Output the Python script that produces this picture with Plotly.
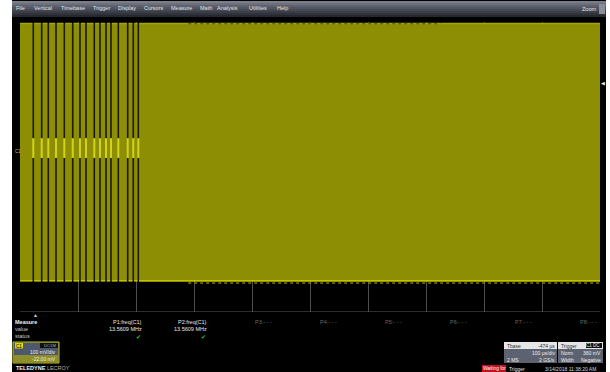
import plotly.graph_objects as go

W, H = 610, 372
FONT = "Liberation Sans"

# ---- acquisition settings -------------------------------------------------
time_range_us = [0, 1000]        # 10 div x 100 us/div
volt_range_mv = [-400, 400]      # 8 div x 100 mV/div
time_div_us = 100

# ---- carrier burst (13.56 MHz, drawn as its envelope) --------------------
carrier_high_mv = 396
carrier_low_mv = -314
pause_start_us = [21.5, 36.0, 47.4, 60.7, 75.0, 89.5, 102.0, 112.4,
                  126.7, 136.5, 146.9, 155.5, 168.1, 184.3, 193.9, 202.6]
pause_width_us = 2.8
pause_center_mv = 52
pause_ring_mv = 27
ragged_start_us = 290
ragged_top_end_us = 725

# ---- measurement panel ----------------------------------------------------
meas_labels = ["P1:freq(C1)", "P2:freq(C1)", "P3:- - -", "P4:- - -",
               "P5:- - -", "P6:- - -", "P7:- - -", "P8:- - -"]
meas_values = ["13.5609 MHz", "13.5609 MHz", "", "", "", "", "", ""]
meas_ok = [True, True, False, False, False, False, False, False]

menu_items = ["File", "Vertical", "Timebase", "Trigger", "Display", "Cursors",
              "Measure", "Math", "Analysis", "Utilities", "Help"]
menu_x = [15, 33, 60, 92, 117, 143, 170, 199, 216, 248, 276]

# ---- envelope construction ------------------------------------------------
xs = [time_range_us[0]]
up = [carrier_high_mv]
lo = [carrier_low_mv]
ring_top = pause_center_mv + pause_ring_mv
ring_bot = pause_center_mv - pause_ring_mv
for t in pause_start_us:
    t1 = t + pause_width_us
    xs += [t, t, t1, t1]
    up += [carrier_high_mv, ring_top, ring_top, carrier_high_mv]
    lo += [carrier_low_mv, ring_bot, ring_bot, carrier_low_mv]
xs.append(time_range_us[1])
up.append(carrier_high_mv)
lo.append(carrier_low_mv)

OLIVE = "#8e8e04"
fig = go.Figure()

# faint persistence under the whole burst (shows inside the pauses)
fig.add_trace(go.Scatter(x=time_range_us, y=[carrier_low_mv] * 2, mode="lines",
                         line=dict(width=0, color="#1c1c00"), hoverinfo="skip", showlegend=False))
fig.add_trace(go.Scatter(x=time_range_us, y=[carrier_high_mv] * 2, mode="lines",
                         line=dict(width=0, color="#1c1c00"), fill="tonexty",
                         fillcolor="#1c1c02", hoverinfo="skip", showlegend=False))

fig.add_trace(go.Scatter(x=xs, y=lo, mode="lines", line=dict(width=0, color=OLIVE),
                         hoverinfo="skip", showlegend=False))
fig.add_trace(go.Scatter(x=xs, y=up, mode="lines", line=dict(width=0, color=OLIVE),
                         fill="tonexty", fillcolor=OLIVE, hoverinfo="skip", showlegend=False))

# bright edges of the envelope, broken at the pauses
ex, ety, eby = [], [], []
bounds = [time_range_us[0]] + [v for t in pause_start_us for v in (t, t + pause_width_us)] + [time_range_us[1]]
for a, b in zip(bounds[0::2], bounds[1::2]):
    ex += [a, b, None]
    ety += [carrier_high_mv, carrier_high_mv, None]
    eby += [carrier_low_mv, carrier_low_mv, None]
fig.add_trace(go.Scatter(x=ex, y=ety, mode="lines", line=dict(width=1.4, color="#a6a600"),
                         hoverinfo="skip", showlegend=False))
fig.add_trace(go.Scatter(x=ex, y=eby, mode="lines", line=dict(width=1.6, color="#c2c200"),
                         hoverinfo="skip", showlegend=False))

# residual oscillation during each pause
rx, ry = [], []
for t in pause_start_us:
    c = t + pause_width_us / 2
    rx += [c, c, None]
    ry += [ring_bot, ring_top, None]
fig.add_trace(go.Scatter(x=rx, y=ry, mode="lines", line=dict(width=2, color="#d2d21c"),
                         hoverinfo="skip", showlegend=False))

# jitter on the envelope edges of the steady carrier
fig.add_trace(go.Scatter(x=[ragged_start_us, time_range_us[1]],
                         y=[carrier_low_mv - 6, carrier_low_mv - 6], mode="lines",
                         line=dict(width=1.6, color="#7c7c08", dash="dot"),
                         hoverinfo="skip", showlegend=False))
fig.add_trace(go.Scatter(x=[ragged_start_us, ragged_top_end_us],
                         y=[carrier_high_mv - 1, carrier_high_mv - 1], mode="lines",
                         line=dict(width=1, color="#4a4a00", dash="dot"),
                         hoverinfo="skip", showlegend=False))

# ---- chrome helpers -------------------------------------------------------
shapes, anns = [], []


def rect(x0, y0, x1, y1, fill, line=None, lw=0, layer="above"):
    shapes.append(dict(type="rect", xref="paper", yref="paper",
                       x0=x0 / W, x1=x1 / W, y0=1 - y1 / H, y1=1 - y0 / H,
                       fillcolor=fill, layer=layer,
                       line=dict(width=lw, color=line or fill)))


def txt(x, y, s, size=6, color="#dcdcdc", anchor="left"):
    anns.append(dict(x=x / W, y=1 - y / H, xref="paper", yref="paper", text=s,
                     showarrow=False, xanchor=anchor, yanchor="middle",
                     font=dict(size=size, color=color, family=FONT), borderpad=0))


# white page edges around the screen capture
rect(0, 0, 12, H, "#ffffff")
rect(606, 0, W, H, "#ffffff")

# menu bar gradient
grad = ["#7a7e8a", "#6c707c", "#5e626e", "#525661", "#464a54", "#3b3e47", "#30333b", "#26282e"]
for i, c in enumerate(grad):
    rect(12, 1 + i * 2, 606, 3 + i * 2, c)
for name, x in zip(menu_items, menu_x):
    txt(x, 8, name, size=5.5, color="#e4e4e8")
txt(597, 9, "Zoom", size=5.5, color="#e4e4e8", anchor="right")
rect(599, 4, 605, 14, "#8a8e98")

# grid bottom border
shapes.append(dict(type="line", xref="x", yref="y", x0=time_range_us[0], x1=time_range_us[1],
                   y0=volt_range_mv[0], y1=volt_range_mv[0],
                   line=dict(color="#5a5a5a", width=1), layer="below"))

# trace ground marker, trigger level and trigger position
txt(14, 151, "C1", size=4.5, color="#b8b890")
txt(606, 83, "◀", size=5, color="#e8e8e8", anchor="right")
txt(35, 315, "▲", size=5, color="#d0d0d0", anchor="center")

# measurement table
txt(14, 322, "<b>Measure</b>", size=5.5, color="#f0f0f0")
txt(14, 329, "value", size=5.5, color="#c8c8c8")
txt(14, 336, "status", size=5.5, color="#c8c8c8")
for i, (lab, val, ok) in enumerate(zip(meas_labels, meas_values, meas_ok)):
    xr = 143 + 65 * i
    col = "#e8e8e8" if val else "#6a6a6a"
    txt(xr, 322, lab, size=5.5, color=col, anchor="right")
    if val:
        txt(xr, 329, val, size=5.5, color="#e8e8e8", anchor="right")
    if ok:
        txt(xr - 5, 337, "✔", size=5.5, color="#3cc43c", anchor="center")

# channel descriptor
rect(13, 342, 59, 363, "#4e586c", "#c0c000", 1)
rect(14, 355, 58, 362, "#8e8e2c")
rect(15, 343, 23, 348.5, "#dada00")
txt(19, 346, "C1", size=4.5, color="#000000", anchor="center")
rect(40, 343, 58, 348, "#101010")
txt(57, 345.5, "DC1M", size=4.2, color="#b0b0b0", anchor="right")
txt(57, 352, "100 mV/div", size=5, color="#f0f0f0", anchor="right")
txt(57, 358.5, "-22.00 mV", size=5, color="#f4f4d0", anchor="right")
txt(15, 368, "<b>TELEDYNE</b> <span style='color:#b0b0b0'>LECROY</span>", size=5.5, color="#f0f0f0")

# timebase box
rect(504, 342, 557, 349, "#e6e6e6")
txt(506, 345.5, "Tbase", size=5, color="#303030")
txt(556, 345.5, "-474 µs", size=5, color="#303030", anchor="right")
rect(504, 349, 557, 363, "#5c6270")
txt(556, 352.5, "100 µs/div", size=5, color="#eeeeee", anchor="right")
txt(506, 359.5, "2 MS", size=5, color="#eeeeee")
txt(556, 359.5, "2 GS/s", size=5, color="#eeeeee", anchor="right")

# trigger box
rect(558, 342, 603, 349, "#e6e6e6")
txt(560, 345.5, "Trigger", size=5, color="#303030")
rect(586, 343, 602, 348, "#101010")
txt(601, 345.5, "C1 DC", size=4.5, color="#f0f0f0", anchor="right")
rect(558, 349, 603, 363, "#5c6270")
txt(560, 352.5, "Norm", size=5, color="#eeeeee")
txt(602, 352.5, "360 mV", size=5, color="#eeeeee", anchor="right")
txt(560, 359.5, "Width", size=5, color="#eeeeee")
txt(602, 359.5, "Negative", size=5, color="#eeeeee", anchor="right")

# status line
rect(482, 365, 506, 372, "#c4101c")
txt(494, 368.5, "Waiting for", size=4.8, color="#ffffff", anchor="center")
txt(508, 368.5, "Trigger", size=5, color="#e0e0e0")
txt(597, 368.5, "3/14/2018 11:38:20 AM", size=5, color="#d8d8d8", anchor="right")

fig.update_layout(
    width=W, height=H,
    margin=dict(l=0, r=0, t=0, b=0),
    paper_bgcolor="#000000", plot_bgcolor="#000000",
    showlegend=False,
    shapes=shapes, annotations=anns,
    xaxis=dict(domain=[20 / W, 600 / W], range=time_range_us, dtick=time_div_us, tick0=0,
               showgrid=True, gridcolor="#4e4e4e", gridwidth=1, zeroline=False,
               showticklabels=False, ticks="", showline=False, fixedrange=True),
    yaxis=dict(domain=[1 - 312 / H, 1 - 22 / H], range=volt_range_mv,
               showgrid=False, zeroline=False, showticklabels=False, ticks="",
               showline=False, fixedrange=True),
)

fig.write_html("out.html")
